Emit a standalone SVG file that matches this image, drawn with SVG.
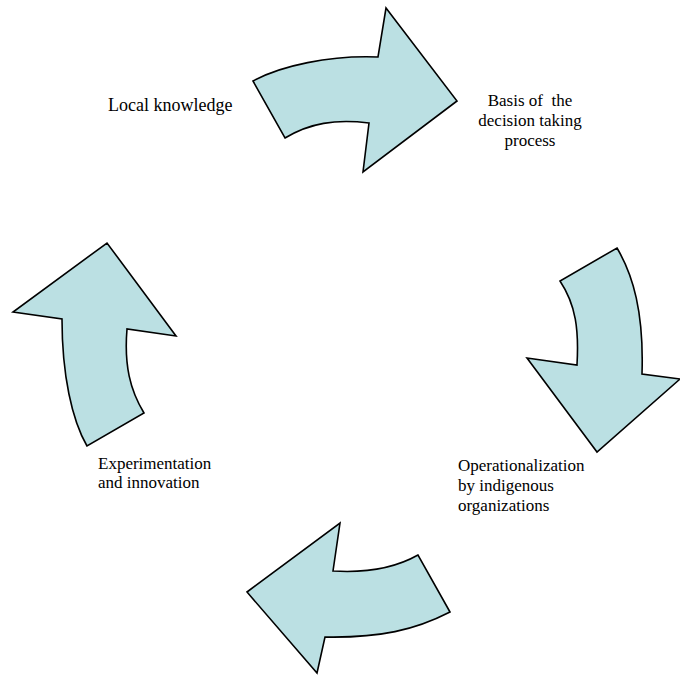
<svg xmlns="http://www.w3.org/2000/svg" width="680" height="685" viewBox="0 0 680 685">
  <style>
    .arrow { fill: #bbe0e3; stroke: #000; stroke-width: 1.6; stroke-linejoin: miter; }
    .lbl { font-family: "Liberation Serif", "Times New Roman", serif; font-size: 17px; fill: #000; }
  </style>
  <rect width="680" height="685" fill="#fff"/>

  <!-- curved cycle arrows -->
  <g id="arrows">
    <g id="arrow-top">
      <path class="arrow" d="M253,81 C280,66 330,55 378,57 L386,8 L457,101 L363,172 L369,123 C335,119 310,123 285,138 Z"/>
    </g>
    <g id="arrow-right">
      <path class="arrow" d="M617,248 C633,275 644,312 642,374 L680,379 L597,452 L527,358 L577,365 C579,330 576,305 560,281 Z"/>
    </g>
    <g id="arrow-bottom">
      <path class="arrow" d="M450,612 C415,630 380,638 325,637 L317,673 L247,592 L340,523 L333,571 C365,573 395,568 418,555 Z"/>
    </g>
    <g id="arrow-left">
      <path class="arrow" d="M87,446 C72,420 62,375 62,319 L13,312 L107,243 L176,336 L127,329 C124,365 130,390 144,413 Z"/>
    </g>
  </g>

  <!-- stage labels -->
  <g id="label-local">
    <text class="lbl" x="108" y="110.5" style="font-size:18px">Local knowledge</text>
  </g>
  <g id="label-basis">
    <text class="lbl" x="530" y="106" text-anchor="middle" xml:space="preserve">Basis of  the</text>
    <text class="lbl" x="530" y="126" text-anchor="middle">decision taking</text>
    <text class="lbl" x="530" y="146" text-anchor="middle">process</text>
  </g>
  <g id="label-operational">
    <text class="lbl" x="458" y="471">Operationalization</text>
    <text class="lbl" x="458" y="491">by indigenous</text>
    <text class="lbl" x="458" y="511">organizations</text>
  </g>
  <g id="label-experiment">
    <text class="lbl" x="98" y="468.5">Experimentation</text>
    <text class="lbl" x="98" y="488">and innovation</text>
  </g>
</svg>
